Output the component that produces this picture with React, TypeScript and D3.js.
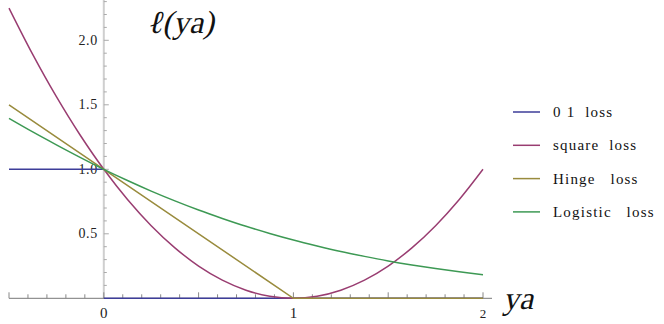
import React from "react";
import * as d3 from "d3";

// sample positions along ya
const xs = [-0.5, -0.375, -0.25, -0.125, 0, 0.125, 0.25, 0.375, 0.5, 0.625, 0.75, 0.875, 1, 1.125, 1.25, 1.375, 1.5, 1.625, 1.75, 1.875, 2];
const squareLoss = [2.25, 1.891, 1.563, 1.266, 1.0, 0.766, 0.563, 0.391, 0.25, 0.141, 0.063, 0.016, 0, 0.016, 0.063, 0.141, 0.25, 0.391, 0.563, 0.766, 1.0];
const logisticLoss = [1.395, 1.29, 1.19, 1.093, 1.0, 0.913, 0.831, 0.755, 0.684, 0.619, 0.558, 0.503, 0.452, 0.406, 0.363, 0.325, 0.29, 0.259, 0.231, 0.206, 0.183];
const hingeX = [-0.5, 0, 1, 2];
const hingeLoss = [1.5, 1.0, 0, 0];
const zeroOneX = [[-0.5, 0], [0, 2]];
const zeroOneLoss = [[1, 1], [0, 0]];

const legendLabels = ["0 1  loss", "square  loss", "Hinge   loss", "Logistic   loss"];
const colors = ["#3d3d99", "#993d71", "#998b3d", "#3d9954"];
const xTickLabels = [0, 1, 2];
const yTickLabels = [0.5, 1.0, 1.5, 2.0];

const W = 664, H = 324;
const times = "Liberation Serif";

export default function App() {
  const x = d3.scaleLinear().domain([-0.5, 2]).range([9, 483]);
  const y = d3.scaleLinear().domain([0, 1]).range([298.3, 169.3]);
  const x0 = x(0);
  const y0 = y(0);

  const smooth = d3.line<number>().x((_, i) => x(xs[i])).y((d) => y(d)).curve(d3.curveCatmullRom);
  const straight = d3.line<[number, number]>().x((d) => x(d[0])).y((d) => y(d[1]));

  const xMinor = d3.range(-5, 21).map((i) => i / 10);
  const yMinor = d3.range(1, 24).map((i) => i / 10);
  const isMajor = (v: number) => Math.abs(v * 2 - Math.round(v * 2)) < 1e-6;

  // no italic serif face installed, so slant the upright one
  const italic = (px: number, py: number) => `translate(${px},${py}) skewX(-13)`;

  return (
    <svg width={W} height={H} style={{ position: "absolute", left: 0, top: 0, background: "#fff" }}>
      {/* y axis */}
      <line x1={x0} x2={x0} y1={y0} y2={0} stroke="#cfcfcf" strokeWidth={2} />
      {yMinor.map((v) => (
        <line key={"yt" + v} x1={x0} x2={x0 + (isMajor(v) ? 5 : 3)} y1={y(v)} y2={y(v)} stroke="#aaa" strokeWidth={1} />
      ))}
      {yTickLabels.map((v) => (
        <text key={"yl" + v} x={x0 - 6} y={y(v) + 4.5} textAnchor="end" fontFamily={times} fontSize={14} fill="#222" letterSpacing={0.6}>
          {v.toFixed(1)}
        </text>
      ))}

      {/* x axis */}
      <line x1={9} x2={492} y1={y0} y2={y0} stroke="#777" strokeWidth={1} />
      {xMinor.map((v) => (
        <line key={"xt" + v} x1={x(v)} x2={x(v)} y1={y0} y2={y0 - (isMajor(v) ? 6 : 4)} stroke="#888" strokeWidth={1} />
      ))}
      {xTickLabels.map((v) => (
        <text key={"xl" + v} x={x(v)} y={y0 + 20} textAnchor="middle" fontFamily={times} fontSize={v === 2 ? 13 : 15} fill="#222">
          {v}
        </text>
      ))}

      {/* curves */}
      {zeroOneX.map((seg, i) => (
        <path key={"z" + i} d={straight(seg.map((v, j) => [v, zeroOneLoss[i][j]] as [number, number])) || ""} fill="none" stroke={colors[0]} strokeWidth={1.5} />
      ))}
      <path d={smooth(squareLoss) || ""} fill="none" stroke={colors[1]} strokeWidth={1.5} />
      <path d={straight(hingeX.map((v, i) => [v, hingeLoss[i]] as [number, number])) || ""} fill="none" stroke={colors[2]} strokeWidth={1.5} />
      <path d={smooth(logisticLoss) || ""} fill="none" stroke={colors[3]} strokeWidth={1.5} />

      {/* axis titles */}
      <text transform={italic(147, 33)} fontFamily={times} fontSize={32} fill="#111">ℓ(ya)</text>
      <text transform={italic(503, 309)} fontFamily={times} fontSize={32} fill="#111">ya</text>

      {/* legend */}
      {legendLabels.map((l, i) => (
        <g key={l} transform={`translate(513, ${112 + i * 33.3})`}>
          <line x1={0} x2={27} y1={0} y2={0} stroke={colors[i]} strokeWidth={1.5} />
          <text x={40} y={5} fontFamily={times} fontSize={15} fill="#111" letterSpacing={1.2} style={{ whiteSpace: "pre" }}>
            {l}
          </text>
        </g>
      ))}
    </svg>
  );
}
